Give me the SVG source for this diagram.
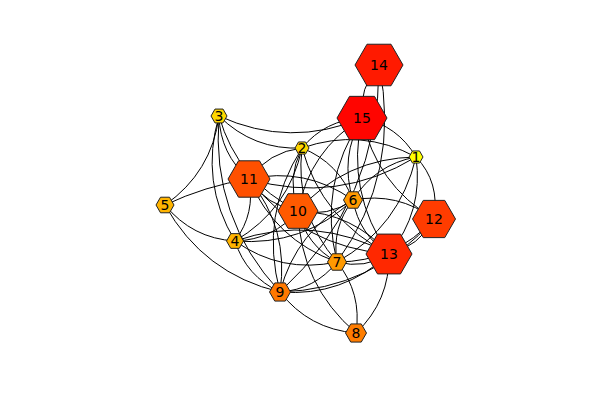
<svg xmlns="http://www.w3.org/2000/svg" width="600" height="400" viewBox="0 0 600 400">
<style>
.e path{fill:none;stroke:#000;stroke-width:1}
.n polygon{stroke:#222;stroke-width:1}
.n text{font-family:"DejaVu Sans",sans-serif;font-size:14px;fill:#000;text-anchor:middle;dominant-baseline:central}
</style>
<rect width="600" height="400" fill="#fff"/>
<g id="edges" class="e">
<path d="M219 116 Q290.1 148.5 362 118"/>
<path d="M219 116 Q253.5 150.3 302 148"/>
<path d="M165 205 Q211.6 172.4 219 116"/>
<path d="M165 205 Q192.1 238.4 235 241"/>
<path d="M165 205 Q203.4 273.8 280 292"/>
<path d="M249 179 Q205 186 165 205"/>
<path d="M280 292 Q309 329.2 356 333"/>
<path d="M356 333 Q389.9 300.8 389 254"/>
<path d="M356 333 Q362.1 293.3 337 262"/>
<path d="M298 211 Q300.2 284.8 356 333"/>
<path d="M379 65 Q358.8 87.8 362 118"/>
<path d="M416 157 Q397.6 125.6 362 118"/>
<path d="M416 157 Q361 127.4 302 148"/>
<path d="M362 118 Q325.4 119.8 302 148"/>
<path d="M249 179 Q337.3 204.7 416 157"/>
<path d="M416 157 Q345.1 158 298 211"/>
<path d="M434 219 Q440 182 416 157"/>
<path d="M389 254 Q423.8 211.4 416 157"/>
<path d="M337 262 Q399.6 226.9 416 157"/>
<path d="M416 157 Q375 164.6 353 200"/>
<path d="M337 262 Q401.3 172.7 379 65"/>
<path d="M280 292 Q379.5 200.3 379 65"/>
<path d="M362 118 Q339.5 157 353 200"/>
<path d="M362 118 Q309.5 150.4 298 211"/>
<path d="M362 118 Q345.6 191.9 389 254"/>
<path d="M362 118 Q375.8 184.3 434 219"/>
<path d="M362 118 Q317.8 184.5 337 262"/>
<path d="M219 116 Q220.1 154.1 249 179"/>
<path d="M219 116 Q237.6 180.9 298 211"/>
<path d="M219 116 Q199.5 182 235 241"/>
<path d="M219 116 Q210.8 217.4 280 292"/>
<path d="M302 148 Q268.7 151.8 249 179"/>
<path d="M302 148 Q286.1 178.6 298 211"/>
<path d="M353 200 Q338.9 162.8 302 148"/>
<path d="M235 241 Q289 209.2 302 148"/>
<path d="M302 148 Q259.3 215.2 280 292"/>
<path d="M302 148 Q294.4 212.7 337 262"/>
<path d="M302 148 Q322.2 220.1 389 254"/>
<path d="M235 241 Q255.6 213.1 249 179"/>
<path d="M235 241 Q273.1 239.9 298 211"/>
<path d="M235 241 Q303 246.5 353 200"/>
<path d="M235 241 Q281.4 273.9 337 262"/>
<path d="M235 241 Q246.3 276.4 280 292"/>
<path d="M389 254 Q314.9 213.6 235 241"/>
<path d="M249 179 Q266.5 205.8 298 211"/>
<path d="M353 200 Q305.6 166.6 249 179"/>
<path d="M249 179 Q274.7 239.9 337 262"/>
<path d="M249 179 Q302.5 247.3 389 254"/>
<path d="M280 292 Q289.4 228.7 249 179"/>
<path d="M298 211 Q327.9 217.6 353 200"/>
<path d="M298 211 Q306.3 245.1 337 262"/>
<path d="M389 254 Q353 212.5 298 211"/>
<path d="M353 200 Q331.4 227.5 337 262"/>
<path d="M434 219 Q397.7 191.7 353 200"/>
<path d="M353 200 Q359.1 234.9 389 254"/>
<path d="M353 200 Q296.3 229.9 280 292"/>
<path d="M280 292 Q315.1 289.5 337 262"/>
<path d="M337 262 Q364.8 269.4 389 254"/>
<path d="M337 262 Q395 261.8 434 219"/>
<path d="M280 292 Q342.9 297 389 254"/>
<path d="M280 292 Q373.1 289.4 434 219"/>
<path d="M389 254 Q419.2 246.4 434 219"/>
</g>
<g id="node1" class="n" transform="translate(416,157)"><polygon fill="#ffff00" points="7,0 3.5,6.06 -3.5,6.06 -7,0 -3.5,-6.06 3.5,-6.06"/><text>1</text></g>
<g id="node2" class="n" transform="translate(302,148)"><polygon fill="#ffd700" points="7,0 3.5,6.06 -3.5,6.06 -7,0 -3.5,-6.06 3.5,-6.06"/><text>2</text></g>
<g id="node3" class="n" transform="translate(219,116)"><polygon fill="#ffd700" points="8,0 4,6.93 -4,6.93 -8,0 -4,-6.93 4,-6.93"/><text>3</text></g>
<g id="node4" class="n" transform="translate(235,241)"><polygon fill="#ffb400" points="8.5,0 4.25,7.36 -4.25,7.36 -8.5,0 -4.25,-7.36 4.25,-7.36"/><text>4</text></g>
<g id="node5" class="n" transform="translate(165,205)"><polygon fill="#ffb400" points="9,0 4.5,7.79 -4.5,7.79 -9,0 -4.5,-7.79 4.5,-7.79"/><text>5</text></g>
<g id="node6" class="n" transform="translate(353,200)"><polygon fill="#ff9900" points="9.5,0 4.75,8.23 -4.75,8.23 -9.5,0 -4.75,-8.23 4.75,-8.23"/><text>6</text></g>
<g id="node7" class="n" transform="translate(337,262)"><polygon fill="#ff9900" points="9.5,0 4.75,8.23 -4.75,8.23 -9.5,0 -4.75,-8.23 4.75,-8.23"/><text>7</text></g>
<g id="node8" class="n" transform="translate(356,333)"><polygon fill="#ff7d00" points="10.5,0 5.25,9.09 -5.25,9.09 -10.5,0 -5.25,-9.09 5.25,-9.09"/><text>8</text></g>
<g id="node9" class="n" transform="translate(280,292)"><polygon fill="#ff7800" points="10.5,0 5.25,9.09 -5.25,9.09 -10.5,0 -5.25,-9.09 5.25,-9.09"/><text>9</text></g>
<g id="node10" class="n" transform="translate(298,211)"><polygon fill="#ff5a00" points="20,0 10,17.32 -10,17.32 -20,0 -10,-17.32 10,-17.32"/><text>10</text></g>
<g id="node11" class="n" transform="translate(249,179)"><polygon fill="#ff5000" points="21,0 10.5,18.19 -10.5,18.19 -21,0 -10.5,-18.19 10.5,-18.19"/><text>11</text></g>
<g id="node12" class="n" transform="translate(434,219)"><polygon fill="#ff3c00" points="21.5,0 10.75,18.62 -10.75,18.62 -21.5,0 -10.75,-18.62 10.75,-18.62"/><text>12</text></g>
<g id="node13" class="n" transform="translate(389,254)"><polygon fill="#ff2800" points="23,0 11.5,19.92 -11.5,19.92 -23,0 -11.5,-19.92 11.5,-19.92"/><text>13</text></g>
<g id="node14" class="n" transform="translate(379,65)"><polygon fill="#ff1a00" points="24,0 12,20.78 -12,20.78 -24,0 -12,-20.78 12,-20.78"/><text>14</text></g>
<g id="node15" class="n" transform="translate(362,118)"><polygon fill="#ff0500" points="25,0 12.5,21.65 -12.5,21.65 -25,0 -12.5,-21.65 12.5,-21.65"/><text>15</text></g>
</svg>
